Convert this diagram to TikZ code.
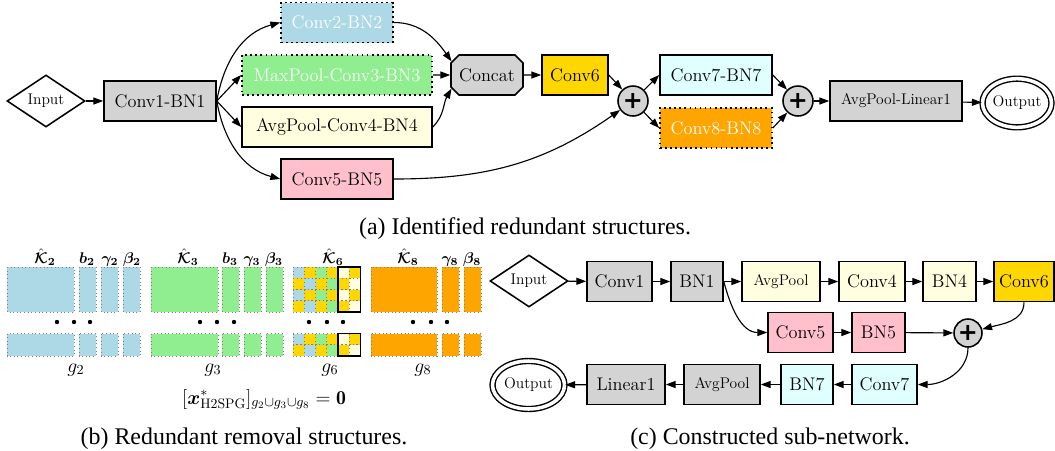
\RequirePackage{fix-cm}
\documentclass[tikz,border=0pt]{standalone}
\usepackage{bm}
\usepackage{fontspec}
\newfontfamily\capfont{Liberation Serif}
\newfontfamily\plusfont{DejaVu Sans}
\usetikzlibrary{arrows.meta,shapes.geometric,shapes.misc}

\definecolor{lgray}{HTML}{D3D3D3}
\definecolor{lblue}{HTML}{ADD8E6}
\definecolor{lgreen}{HTML}{90EE90}
\definecolor{lyellow}{HTML}{FFFFE0}
\definecolor{lpink}{HTML}{FFC0CB}
\definecolor{cgold}{HTML}{FFD700}
\definecolor{lcyan}{HTML}{E0FFFF}
\definecolor{dorange}{HTML}{FFA500}

\tikzset{
  box/.style={draw, rectangle, line width=1.1pt, minimum height=1cm, inner sep=0pt, font=\fontsize{13}{15}\selectfont},
  pruned/.style={box, dash pattern=on 1.2pt off 2.4pt, text=white},
  small/.style={font=\fontsize{11}{13}\selectfont},
  input/.style={diamond, draw, line width=1.1pt, inner sep=0pt, minimum width=1.95cm, minimum height=1.3cm, small},
  output/.style={ellipse, draw, double, double distance=2.5pt, line width=1pt, inner sep=0pt, small},
  plus/.style={circle, draw, fill=lgray, line width=1.1pt, minimum size=0.75cm, inner sep=0pt, font=\plusfont\bfseries\fontsize{17}{17}\selectfont},
  link/.style={-{Triangle[length=7pt,width=5pt]}, line width=0.8pt},
  blk/.style={draw=gray, dotted, line width=0.6pt},
  lbl/.style={anchor=base, font=\fontsize{11}{13}\selectfont},
  glbl/.style={anchor=base, font=\fontsize{14}{16}\selectfont},
  capt/.style={anchor=base, font=\capfont\fontsize{17}{20}\selectfont},
}

\begin{document}
\begin{tikzpicture}[x=0.025cm,y=-0.025cm]
\useasboundingbox (0,0) rectangle (1055,450);

\node[input] (in) at (46,101) {Input};
\node[box, fill=lgray, minimum width=2.8cm] (c1) at (160,101) {Conv1-BN1};
\node[pruned, fill=lblue, minimum width=2.8cm] (c2) at (337,22.5) {Conv2-BN2};
\node[pruned, fill=lgreen, minimum width=4.75cm] (c3) at (337,75) {MaxPool-Conv3-BN3};
\node[box, fill=lyellow, minimum width=4.75cm] (c4) at (337,127) {AvgPool-Conv4-BN4};
\node[box, fill=lpink, minimum width=2.8cm] (c5) at (337,179) {Conv5-BN5};
\node[box, chamfered rectangle, chamfered rectangle xsep=0.1cm, chamfered rectangle ysep=0.1cm, fill=lgray, minimum width=1.8cm] (cat) at (487,75) {Concat};
\node[box, fill=cgold, minimum width=1.65cm] (c6) at (575,75) {Conv6};
\node[plus] (p1) at (633,101) {+};
\node[box, fill=lcyan, minimum width=2.8cm] (c7) at (716,75) {Conv7-BN7};
\node[pruned, fill=dorange, minimum width=2.8cm] (c8) at (716,128) {Conv8-BN8};
\node[plus] (p2) at (798,101) {+};
\node[box, small, fill=lgray, minimum width=3.3cm] (lin) at (896,101) {AvgPool-Linear1};
\node[output, minimum width=1.665cm, minimum height=1.215cm] (out) at (1017,103) {Output};

\draw[link] (in) -- (c1);
\draw[link] (c1.east) to[out=80,in=195] (c2.west);
\draw[link] (c1.east) -- (c3.west);
\draw[link] (c1.east) -- (c4.west);
\draw[link] (c1.east) to[out=-80,in=165] (c5.west);
\draw[link] (c2.east) to[out=0,in=125] (cat.159);
\draw[link] (c3) -- (cat);
\draw[link] (c4.east) to[out=45,in=-120] (cat.201);
\draw[link] (cat) -- (c6);
\draw[link] (c6.east) -- (p1);
\draw[link] (c5.east) to[out=0,in=215] (p1);
\draw[link] (p1) -- (c7.west);
\draw[link] (p1) -- (c8.west);
\draw[link] (c7.east) -- (p2);
\draw[link] (c8.east) -- (p2);
\draw[link] (p2) -- (lin);
\draw[link] (lin) -- (out);

\node[capt] (capa) at (525,234) {(a) Identified redundant structures.};

\foreach \xa/\xb/\col in {7/74/lblue, 79/96/lblue, 101/118/lblue, 123/140/lblue, 151/218/lgreen, 222/239/lgreen, 244/261/lgreen, 266/283/lgreen, 371/437/dorange, 442/459/dorange, 464/481/dorange} {
  \filldraw[blk, fill=\col] (\xa,267) rectangle (\xb,312);
  \filldraw[blk, fill=\col] (\xa,333.5) rectangle (\xb,356);
}
\foreach \y/\cs in {267/{lblue,cgold,lgreen,cgold,lyellow,cgold}, 278.25/{cgold,lblue,cgold,lgreen,cgold,lyellow}, 289.5/{lblue,cgold,lgreen,cgold,lyellow,cgold}, 300.75/{cgold,lblue,cgold,lgreen,cgold,lyellow}, 333.5/{lblue,cgold,lgreen,cgold,lyellow,cgold}, 344.75/{cgold,lblue,cgold,lgreen,cgold,lyellow}}
  \foreach \c [count=\i from 0] in \cs
    \filldraw[blk, fill=\c] ({293+11.25*\i},\y) rectangle +(11.25,11.25);
\draw[line width=1.2pt] (338,267) rectangle (360.5,312);
\draw[line width=1.2pt] (338,333.5) rectangle (360.5,356);
\foreach \x in {57,74,90,200,217,234,309,327,343,413,431,447}
  \fill (\x,322) circle (2.2);

\node[lbl] (k2) at (45,263) {$\bm{\hat{\mathcal{K}}_2}$};
\node[lbl] (b2) at (87,263) {$\bm{b_2}$};
\node[lbl] (gam2) at (110,263) {$\bm{\gamma_2}$};
\node[lbl] (bet2) at (132,263) {$\bm{\beta_2}$};
\node[lbl] (k3) at (188,263) {$\bm{\hat{\mathcal{K}}_3}$};
\node[lbl] (b3) at (230,263) {$\bm{b_3}$};
\node[lbl] (gam3) at (252,263) {$\bm{\gamma_3}$};
\node[lbl] (bet3) at (274,263) {$\bm{\beta_3}$};
\node[lbl] (k6) at (333,263) {$\bm{\hat{\mathcal{K}}_6}$};
\node[lbl] (k8) at (408,263) {$\bm{\hat{\mathcal{K}}_8}$};
\node[lbl] (gam8) at (450,263) {$\bm{\gamma_8}$};
\node[lbl] (bet8) at (472,263) {$\bm{\beta_8}$};

\node[glbl] (g2) at (76,372) {$g_2$};
\node[glbl] (g3) at (213,372) {$g_3$};
\node[glbl] (g6) at (330,372) {$g_6$};
\node[glbl] (g8) at (423,372) {$g_8$};
\node[glbl] (sol) at (264,404) {$[\bm{x}^*_{\mathrm{H2SPG}}]_{g_2\cup g_3\cup g_8}=\mathbf{0}$};

\node[capt] (capb) at (244,444) {(b) Redundant removal structures.};

\node[input] (cin) at (529,281) {Input};
\node[box, fill=lgray, minimum width=1.625cm] (cconv1) at (619.5,281.5) {Conv1};
\node[box, fill=lgray, minimum width=1.3cm] (cbn1) at (697,281.5) {BN1};
\node[box, small, fill=lyellow, minimum width=1.95cm] (cpool4) at (781,281.5) {AvgPool};
\node[box, fill=lyellow, minimum width=1.65cm] (cconv4) at (872,281.5) {Conv4};
\node[box, fill=lyellow, minimum width=1.325cm] (cbn4) at (949.5,281.5) {BN4};
\node[box, fill=cgold, minimum width=1.5cm] (cconv6) at (1024,281.5) {Conv6};
\node[box, fill=lpink, minimum width=1.625cm] (cconv5) at (800.5,332.5) {Conv5};
\node[box, fill=lpink, minimum width=1.325cm] (cbn5) at (878.5,332.5) {BN5};
\node[plus, minimum size=0.7cm] (cp) at (968,333) {+};
\node[box, fill=lcyan, minimum width=1.625cm] (cconv7) at (884.5,384.5) {Conv7};
\node[box, fill=lcyan, minimum width=1.3cm] (cbn7) at (807,384.5) {BN7};
\node[box, small, fill=lgray, minimum width=1.9cm] (cpool) at (722,384.5) {AvgPool};
\node[box, fill=lgray, minimum width=1.95cm] (clin) at (626,384.5) {Linear1};
\node[output, minimum width=1.8cm, minimum height=1.2cm] (cout) at (528.5,385) {Output};

\draw[link] (cin) -- (cconv1);
\draw[link] (cconv1) -- (cbn1);
\draw[link] (cbn1) -- (cpool4);
\draw[link] (cpool4) -- (cconv4);
\draw[link] (cconv4) -- (cbn4);
\draw[link] (cbn4) -- (cconv6);
\draw[link] (cbn1.east) to[out=-75,in=180] (cconv5.west);
\draw[link] (cconv5) -- (cbn5);
\draw[link] (cbn5) -- (cp);
\draw[link] (cconv6.south) to[out=-90,in=15] (cp);
\draw[link] (cp.south) to[out=-90,in=0] (cconv7.east);
\draw[link] (cconv7) -- (cbn7);
\draw[link] (cbn7) -- (cpool);
\draw[link] (cpool) -- (clin);
\draw[link] (clin) -- (cout);

\node[capt] (capc) at (770,444) {(c) Constructed sub-network.};
\end{tikzpicture}
\end{document}
